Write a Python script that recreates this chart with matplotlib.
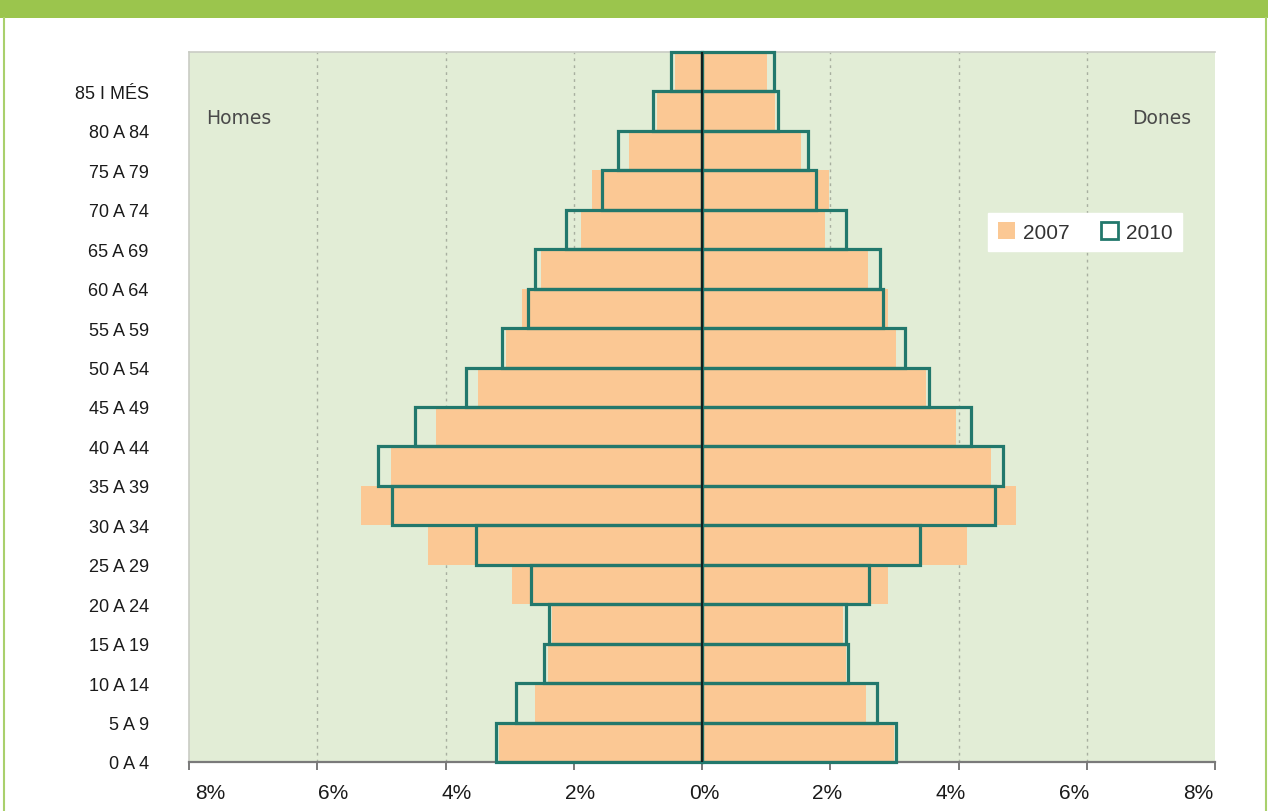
import matplotlib
matplotlib.use('Agg')
import matplotlib.pyplot as plt
from matplotlib.patches import Patch, Rectangle
from matplotlib.lines import Line2D
import numpy as np

# ---------------- data ----------------
age_groups = ['0 A 4', '5 A 9', '10 A 14', '15 A 19', '20 A 24', '25 A 29',
              '30 A 34', '35 A 39', '40 A 44', '45 A 49', '50 A 54', '55 A 59',
              '60 A 64', '65 A 69', '70 A 74', '75 A 79', '80 A 84', '85 I MÉS']
homes_2007 = [3.17, 2.60, 2.40, 2.34, 2.96, 4.28, 5.32, 4.85, 4.15, 3.50,
              3.05, 2.80, 2.51, 1.89, 1.71, 1.14, 0.70, 0.42]
homes_2010 = [3.22, 2.90, 2.46, 2.39, 2.66, 3.53, 4.83, 5.06, 4.48, 3.68,
              3.12, 2.72, 2.61, 2.12, 1.56, 1.31, 0.76, 0.48]
dones_2007 = [3.00, 2.56, 2.25, 2.20, 2.90, 4.14, 4.89, 4.50, 3.96, 3.50,
              3.03, 2.90, 2.59, 1.92, 1.98, 1.55, 1.14, 1.01]
dones_2010 = [3.03, 2.73, 2.28, 2.24, 2.61, 3.40, 4.57, 4.69, 4.19, 3.54,
              3.17, 2.83, 2.78, 2.24, 1.78, 1.66, 1.18, 1.13]
x_ticks = [-8, -6, -4, -2, 0, 2, 4, 6, 8]
x_tick_labels = ['8%', '6%', '4%', '2%', '0%', '2%', '4%', '6%', '8%']
series_labels = ['2007', '2010']
side_labels = ['Homes', 'Dones']

# ---------------- style ----------------
ORANGE = '#FBC894'
TEAL = '#22786C'
BG = '#E2EDD6'
HEADER = '#9BC54D'
FONT = 'Liberation Sans'

W, H = 1268, 812
fig = plt.figure(figsize=(W / 100, H / 100), dpi=100)
fig.patch.set_facecolor('white')

# header bar and frame lines
fig.patches.append(Rectangle((0, 1 - 19 / H), 1, 19 / H, transform=fig.transFigure,
                             facecolor=HEADER, edgecolor='none', zorder=0))
fig.lines.append(Line2D([3.5 / W, 3.5 / W], [0, 1 - 19 / H], transform=fig.transFigure,
                        color='#A9D06C', lw=1.5))
fig.lines.append(Line2D([1265.5 / W, 1265.5 / W], [0, 1 - 19 / H], transform=fig.transFigure,
                        color='#A9D06C', lw=1.5))

left, right, top, bottom = 189, 1215, 53, 763
ax = fig.add_axes([left / W, 1 - bottom / H, (right - left) / W, (bottom - top) / H])
ax.set_facecolor(BG)

y = np.arange(len(age_groups))
h07 = -np.array(homes_2007)
h10 = -np.array(homes_2010)
d07 = np.array(dones_2007)
d10 = np.array(dones_2010)

ax.barh(y, h07, height=1.0, color=ORANGE, lw=0, zorder=2)
ax.barh(y, d07, height=1.0, color=ORANGE, lw=0, zorder=2)
ax.barh(y, h10, height=1.0, fill=False, edgecolor=TEAL, lw=2.3, zorder=3, clip_on=False)
ax.barh(y, d10, height=1.0, fill=False, edgecolor=TEAL, lw=2.3, zorder=3, clip_on=False)

ax.axvline(0, color='#102020', lw=1.6, zorder=4)

ax.set_xlim(-8, 8)
ax.set_ylim(-0.5, len(age_groups) - 0.5)

# vertical dotted grid
for v in x_ticks:
    if v not in (-8, 0, 8):
        ax.axvline(v, color='#A8AFA0', lw=1.0, ls=(0, (2, 3)), zorder=1)

# y labels sit at the lower edge of each bar
ax.set_yticks(y - 0.5)
ax.set_yticklabels(age_groups, fontsize=13, family=FONT, color='#1a1a1a')
ax.tick_params(axis='y', length=0, pad=29)

# x ticks (marks only)
ax.set_xticks(x_ticks)
ax.set_xticklabels([''] * len(x_ticks))
ax.tick_params(axis='x', direction='out', length=6, width=1.4, color='#7a7a7a')

for s in ['left', 'top']:
    ax.spines[s].set_color('#C9CCC4')
    ax.spines[s].set_linewidth(1.2)
ax.spines['right'].set_visible(False)
ax.spines['bottom'].set_color('#7a7a7a')
ax.spines['bottom'].set_linewidth(1.6)

# x tick labels (overlay text, spaced slightly tighter than the ticks)
ax2 = ax.twiny()
ax2.set_xlim(ax.get_xlim())
label_pos = [0.03 + 0.963 * v for v in x_ticks]
ax2.set_xticks(label_pos)
ax2.set_xticklabels(x_tick_labels, fontsize=15, family=FONT, color='#1a1a1a')
ax2.xaxis.set_ticks_position('bottom')
ax2.xaxis.set_label_position('bottom')
ax2.tick_params(axis='x', length=0, pad=15)
for s in ax2.spines.values():
    s.set_visible(False)

# side labels
ax.text(0.017, 0.908, side_labels[0], transform=ax.transAxes, fontsize=13.5,
        color='#4a4a4a', family='DejaVu Sans', ha='left', va='center')
ax.text(0.977, 0.908, side_labels[1], transform=ax.transAxes, fontsize=13.5,
        color='#4a4a4a', family='DejaVu Sans', ha='right', va='center')

# legend
handles = [Patch(facecolor=ORANGE, edgecolor='none', label=series_labels[0]),
           Patch(facecolor='white', edgecolor=TEAL, lw=2.0, label=series_labels[1])]
leg = fig.legend(handles=handles, loc='center', ncol=2,
                 bbox_to_anchor=(1085 / W, 1 - 233 / H), bbox_transform=fig.transFigure,
                 frameon=True, fancybox=False, framealpha=1, edgecolor='white',
                 facecolor='white', handlelength=0.85, handleheight=0.85,
                 handletextpad=0.35, columnspacing=1.5, borderpad=0.45,
                 borderaxespad=0, prop={'family': FONT, 'size': 15})
for t in leg.get_texts():
    t.set_color('#333333')

fig.savefig('out.png', dpi=100, facecolor='white')
